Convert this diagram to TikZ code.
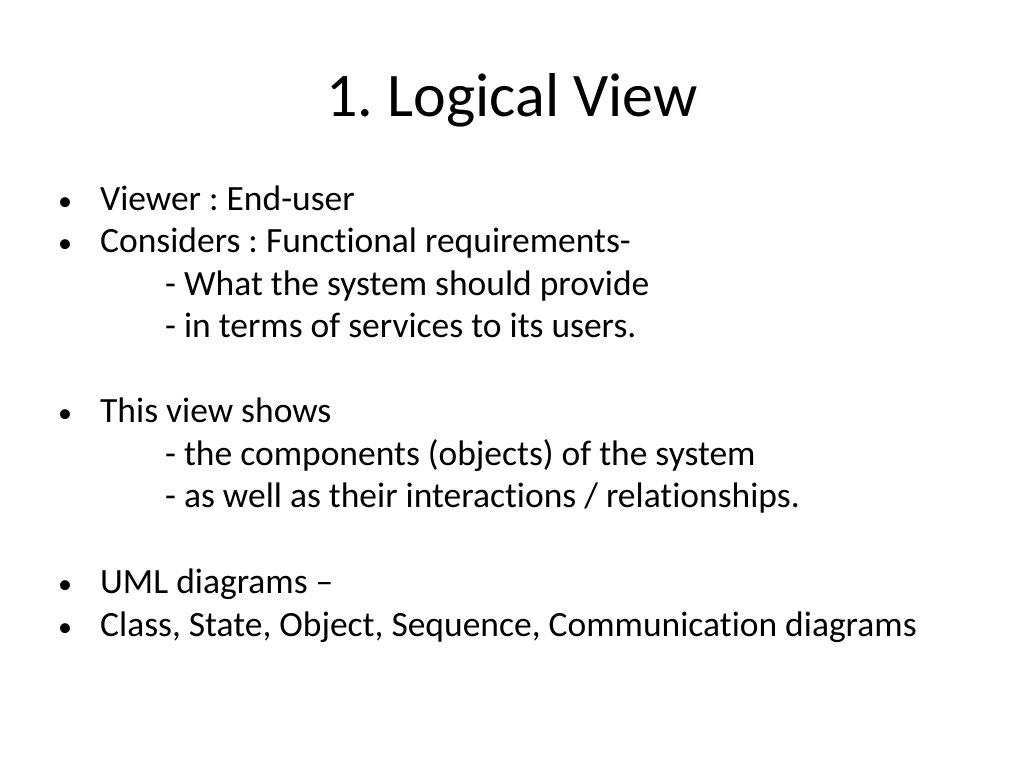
\documentclass[tikz,border=0pt]{standalone}
\usepackage{fontspec}
\setmainfont[Ligatures={NoCommon}]{Carlito}
\frenchspacing
\begin{document}
\begin{tikzpicture}[x=1pt,y=-1pt,
  body/.style={anchor=base west,inner sep=0pt,font=\fontsize{35.5}{42}\selectfont},
  bul/.style={anchor=base west,inner sep=0pt,font=\fontsize{28}{34}\selectfont}]
\useasboundingbox[fill=white] (0,0) rectangle (1024,768);
\node[anchor=base,inner sep=0pt,font=\fontsize{62}{70}\selectfont] (title) at (512,116) {1. Logical View};
\foreach \y/\t [count=\i] in {210/{Viewer : End-user},252/{Considers : Functional requirements-},422/{This view shows},593/{UML diagrams --},636/{Class, State, Object, Sequence, Communication diagrams}}{
  \node[bul] (b\i) at (58,\y) {•};
  \node[body] (t\i) at (100,\y) {\t};
}
\foreach \y/\t [count=\i] in {295/{- What the system should provide},337/{- in terms of services to its users.},465/{- the components (objects) of the system},507/{- as well as their interactions / relationships.}}{
  \node[body] (s\i) at (165,\y) {\t};
}
\end{tikzpicture}
\end{document}
